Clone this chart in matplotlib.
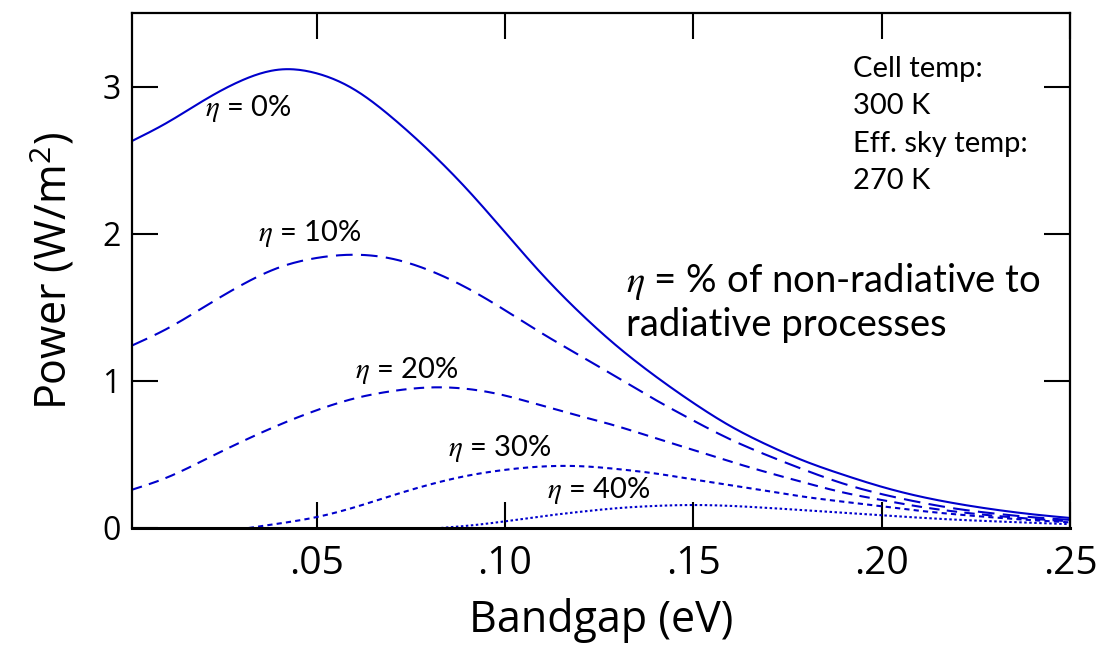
import matplotlib
matplotlib.use("Agg")
import matplotlib.pyplot as plt
import numpy as np

plt.rcParams['font.family'] = ['Open Sans', 'DejaVu Sans']
plt.rcParams['mathtext.fontset'] = 'stix'

# bandgap (eV) and power (W/m^2), one curve per eta
bandgap = [0.001, 0.01, 0.02, 0.03, 0.04, 0.05, 0.06, 0.07, 0.08, 0.09, 0.10,
           0.11, 0.12, 0.13, 0.14, 0.15, 0.16, 0.17, 0.18, 0.19, 0.20,
           0.21, 0.22, 0.23, 0.24, 0.25]
p_eta0 = [2.63, 2.75, 2.905, 3.04, 3.115, 3.09, 2.98, 2.79, 2.56, 2.30, 2.01,
          1.72, 1.46, 1.23, 1.03, 0.85, 0.69, 0.56, 0.45, 0.36, 0.28,
          0.215, 0.165, 0.125, 0.093, 0.068]
p_eta10 = [1.24, 1.35, 1.50, 1.65, 1.77, 1.835, 1.857, 1.83, 1.75, 1.63, 1.48,
           1.32, 1.17, 1.02, 0.87, 0.73, 0.60, 0.49, 0.39, 0.30, 0.23,
           0.175, 0.13, 0.098, 0.073, 0.055]
p_eta20 = [0.26, 0.34, 0.46, 0.585, 0.70, 0.80, 0.88, 0.93, 0.955, 0.945, 0.90,
           0.83, 0.76, 0.69, 0.61, 0.53, 0.45, 0.375, 0.305, 0.24, 0.19,
           0.145, 0.11, 0.083, 0.062, 0.045]

bandgap30 = [0.032, 0.04, 0.05, 0.06, 0.07, 0.08, 0.09, 0.10, 0.11,
             0.12, 0.13, 0.14, 0.15, 0.16, 0.17, 0.18, 0.19, 0.20,
             0.21, 0.22, 0.23, 0.24, 0.25]
p_eta30 = [0.0, 0.03, 0.074, 0.14, 0.22, 0.295, 0.355, 0.395, 0.418,
           0.42, 0.40, 0.37, 0.33, 0.29, 0.25, 0.21, 0.178, 0.147,
           0.117, 0.092, 0.071, 0.053, 0.038]

bandgap40 = [0.083, 0.09, 0.10, 0.11, 0.12, 0.13, 0.14, 0.15, 0.16, 0.17,
             0.18, 0.19, 0.20, 0.21, 0.22, 0.23, 0.24, 0.25]
p_eta40 = [0.0, 0.015, 0.045, 0.08, 0.11, 0.135, 0.15, 0.156, 0.15, 0.136,
           0.12, 0.103, 0.086, 0.07, 0.056, 0.045, 0.035, 0.026]

xticks = [0.05, 0.10, 0.15, 0.20, 0.25]
xticklabels = ['.05', '.10', '.15', '.20', '.25']


def smooth(x, y, n=500):
    # natural cubic spline through the read points
    x = np.asarray(x, float)
    y = np.asarray(y, float)
    k = len(x)
    h = np.diff(x)
    A = np.zeros((k, k))
    b = np.zeros(k)
    A[0, 0] = A[-1, -1] = 1.0
    for i in range(1, k - 1):
        A[i, i - 1] = h[i - 1]
        A[i, i] = 2 * (h[i - 1] + h[i])
        A[i, i + 1] = h[i]
        b[i] = 6 * ((y[i + 1] - y[i]) / h[i] - (y[i] - y[i - 1]) / h[i - 1])
    M = np.linalg.solve(A, b)
    xs = np.linspace(x[0], x[-1], n)
    j = np.clip(np.searchsorted(x, xs) - 1, 0, k - 2)
    a = x[j + 1] - xs
    c = xs - x[j]
    ys = (M[j] * a**3 + M[j + 1] * c**3) / (6 * h[j]) \
        + (y[j] / h[j] - M[j] * h[j] / 6) * a + (y[j + 1] / h[j] - M[j + 1] * h[j] / 6) * c
    return xs, np.clip(ys, 0, None)


fig = plt.figure(figsize=(11.01, 6.46), dpi=100)
ax = fig.add_axes([0.1199, 0.1827, 0.852, 0.7972])

blue = '#0000cc'
ax.plot(*smooth(bandgap, p_eta0), color=blue, lw=1.5)
ax.plot(*smooth(bandgap, p_eta10), color=blue, lw=1.5, dashes=(8, 4))
ax.plot(*smooth(bandgap, p_eta20), color=blue, lw=1.5, dashes=(5, 3.5))
ax.plot(*smooth(bandgap30, p_eta30), color=blue, lw=1.5, dashes=(2.5, 2))
ax.plot(*smooth(bandgap40, p_eta40), color=blue, lw=1.5, dashes=(1.2, 1.2))

ax.set_xlim(0.001, 0.25)
ax.set_ylim(0, 3.5)
ax.set_xticks(xticks)
ax.set_xticklabels(xticklabels)
ax.set_yticks([0, 1, 2, 3])
ax.tick_params(direction='in', length=19, width=1.5, top=True, right=True, color='black')
ax.tick_params(axis='x', labelsize=28, pad=12)
ax.tick_params(axis='y', labelsize=23, pad=8)
for s in ax.spines.values():
    s.set_linewidth(1.6)
ax.spines['bottom'].set_linewidth(2.2)

ax.set_xlabel('Bandgap (eV)', fontsize=31, labelpad=11)
ax.set_ylabel(r'Power (W/m$^{\mathregular{2}}$)', fontsize=31, labelpad=18)

ann = dict(fontsize=21, family=['Lato', 'DejaVu Sans'], va='center')
ax.text(0.0204, 2.85, r'$\eta$ = 0%', **ann)
ax.text(0.0344, 2.00, r'$\eta$ = 10%', **ann)
ax.text(0.0602, 1.068, r'$\eta$ = 20%', **ann)
ax.text(0.0849, 0.537, r'$\eta$ = 30%', **ann)
ax.text(0.1112, 0.252, r'$\eta$ = 40%', **ann)

note = dict(fontsize=21, family=['Lato', 'DejaVu Sans'], va='center')
ax.text(0.1925, 3.122, 'Cell temp:', **note)
ax.text(0.1925, 2.871, '300 K', **note)
ax.text(0.1925, 2.612, 'Eff. sky temp:', **note)
ax.text(0.1925, 2.36, '270 K', **note)

big = dict(fontsize=27.5, family=['Lato', 'DejaVu Sans'], va='center')
ax.text(0.1322, 1.673, r'$\eta$ = % of non-radiative to', **big)
ax.text(0.1322, 1.381, 'radiative processes', **big)

fig.savefig('out.png', dpi=100)
